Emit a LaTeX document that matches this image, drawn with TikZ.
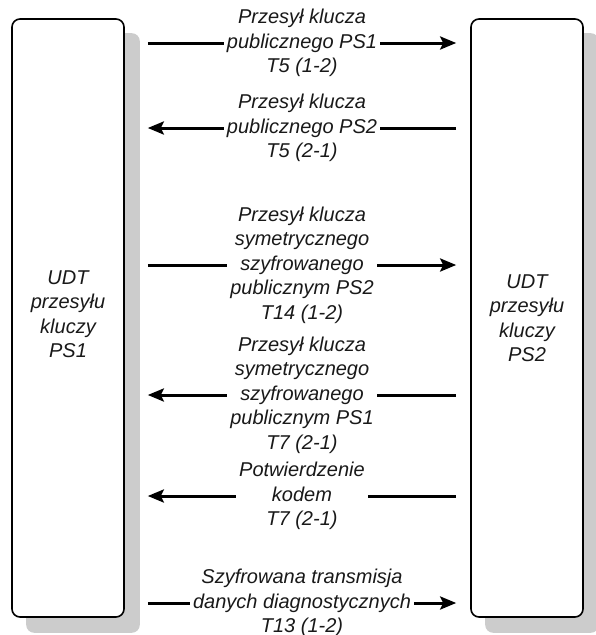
\documentclass[tikz,border=0pt]{standalone}
\usepackage{fontspec}
\setmainfont{Liberation Sans}
\usetikzlibrary{arrows.meta,backgrounds}
\begin{document}
\begin{tikzpicture}[x=1pt,y=-1pt,
  txt/.style={font=\itshape\fontsize{20}{24.5}\selectfont, text=black!90},
  unit/.style={txt, draw=black, line width=1.6pt, rounded corners=8pt, fill=white,
    minimum width=112pt, minimum height=598pt, inner sep=0pt, align=center},
  shade/.style={fill=black!20, rounded corners=8pt},
  msg/.style={line width=3pt, -{Stealth[length=16pt,width=13pt,inset=3pt]}},
  lbl/.style={txt, fill=white, inner xsep=3pt, inner ysep=0pt, align=center}]
\useasboundingbox (0,0) rectangle (595,635);

% the two communicating units
\node[unit, label={[txt, align=center, yshift=4pt]center:UDT\\przesyłu\\kluczy\\PS1}] (ps1) at (68,318) {};
\node[unit] (ps2) at (527,318) {UDT\\przesyłu\\kluczy\\PS2};

% drop shadows behind the units
\begin{scope}[on background layer]
  \fill[shade] ([shift={(15,15)}]ps1.south west) rectangle ([shift={(15,15)}]ps1.north east);
  \fill[shade] ([shift={(15,15)}]ps2.south west) rectangle ([shift={(15,15)}]ps2.north east);
\end{scope}

% ends of the message arrows
\coordinate (L) at ([xshift=23pt]ps1.east);
\coordinate (R) at ([xshift=-14pt]ps2.west);

% messages exchanged between the units
\draw[msg] (L |- 0,43) -- (R |- 0,43)
  node[lbl, midway] (m1) {Przesył klucza\\publicznego PS1\\T5 (1-2)};
\draw[msg] (R |- 0,128) -- (L |- 0,128)
  node[lbl, midway] (m2) {Przesył klucza\\publicznego PS2\\T5 (2-1)};
\draw[msg] (L |- 0,265) -- (R |- 0,265)
  node[lbl, midway] (m3) {Przesył klucza\\symetrycznego\\szyfrowanego\\publicznym PS2\\T14 (1-2)};
\draw[msg] (R |- 0,395) -- (L |- 0,395)
  node[lbl, midway] (m4) {Przesył klucza\\symetrycznego\\szyfrowanego\\publicznym PS1\\T7 (2-1)};
\draw[msg] (R |- 0,496) -- (L |- 0,496)
  node[lbl, midway] (m5) {Potwierdzenie\\kodem\\T7 (2-1)};
\draw[msg] (L |- 0,603) -- (R |- 0,603)
  node[lbl, midway] (m6) {Szyfrowana transmisja\\danych diagnostycznych\\T13 (1-2)};
\end{tikzpicture}
\end{document}
